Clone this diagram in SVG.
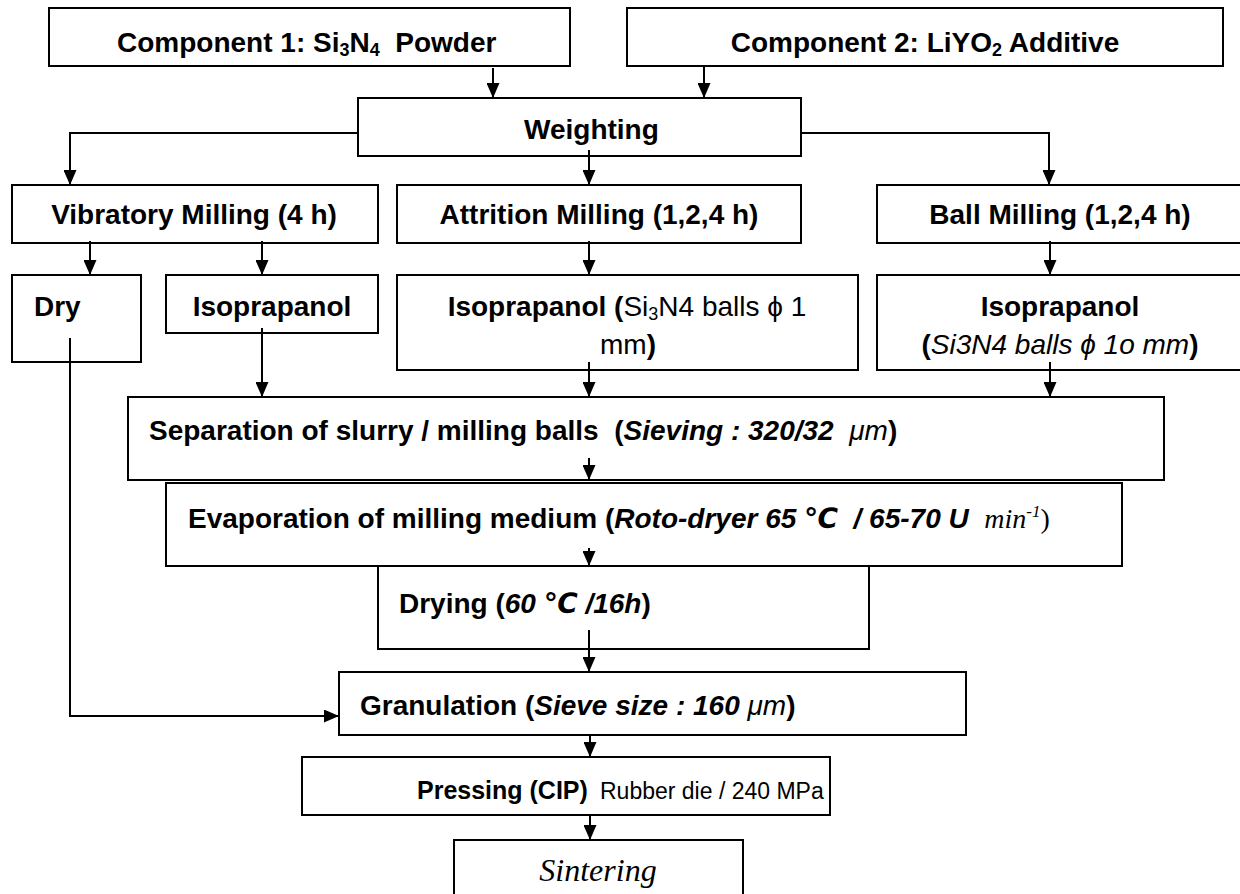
<svg xmlns="http://www.w3.org/2000/svg" width="1240" height="894" viewBox="0 0 1240 894">
<style>
.box{fill:#fff;stroke:#000;stroke-width:2}
.t{font-family:"Liberation Sans",Arial,"DejaVu Sans",sans-serif;font-size:28px;font-weight:bold;fill:#000;white-space:pre}
.r{font-weight:normal}
.i{font-style:italic}
.tm{font-family:"Liberation Serif","Times New Roman",serif;white-space:pre}
.conn{fill:none;stroke:#000;stroke-width:2}
</style>
<defs>
<marker id="ah" markerUnits="userSpaceOnUse" markerWidth="15" markerHeight="13" refX="15" refY="6.5" orient="auto"><path d="M0,0 L15,6.5 L0,13 z" fill="#000"/></marker>
</defs>
<rect width="1240" height="894" fill="#fff"/>

<g id="component1"><rect class="box" x="49" y="8" width="521" height="58"/><text class="t" x="117" y="52">Component 1: Si<tspan font-size="18" dy="4">3</tspan><tspan dy="-4">N</tspan><tspan font-size="18" dy="4">4</tspan><tspan dy="-4">  Powder</tspan></text></g>
<g id="component2"><rect class="box" x="627" y="8" width="596" height="58"/><text class="t" x="925" y="52" text-anchor="middle">Component 2: LiYO<tspan font-size="18" dy="4">2</tspan><tspan dy="-4"> Additive</tspan></text></g>
<g id="weighting"><rect class="box" x="358" y="98" width="443" height="58"/><text class="t" x="524" y="139">Weighting</text></g>

<g id="vibratory"><rect class="box" x="12" y="185" width="366" height="58"/><text class="t" x="194" y="224" text-anchor="middle">Vibratory Milling (4 h)</text></g>
<g id="attrition"><rect class="box" x="397" y="185" width="404" height="58"/><text class="t" x="599" y="224" text-anchor="middle">Attrition Milling (1,2,4 h)</text></g>
<g id="ball"><rect class="box" x="877" y="185" width="368" height="58"/><text class="t" x="1060" y="224" text-anchor="middle">Ball Milling (1,2,4 h)</text></g>

<g id="dry"><rect class="box" x="12" y="275" width="129" height="87"/><text class="t" x="34" y="316">Dry</text></g>
<g id="iso-vib"><rect class="box" x="166" y="275" width="212" height="58"/><text class="t" x="272" y="316" text-anchor="middle">Isoprapanol</text></g>
<g id="iso-attr"><rect class="box" x="397" y="275" width="461" height="95"/><text class="t" x="627" y="316" text-anchor="middle">Isoprapanol (<tspan class="r">Si</tspan><tspan class="r" font-size="18" dy="4">3</tspan><tspan class="r" dy="-4">N4 balls ϕ 1</tspan></text><text class="t" x="628" y="354" text-anchor="middle"><tspan class="r">mm</tspan>)</text></g>
<g id="iso-ball"><rect class="box" x="877" y="275" width="368" height="95"/><text class="t" x="1060" y="316" text-anchor="middle">Isoprapanol</text><text class="t" x="1060" y="354" text-anchor="middle">(<tspan class="r i">Si3N4 balls ϕ 1o mm</tspan>)</text></g>

<g id="separation"><rect class="box" x="128" y="397" width="1036" height="83"/><text class="t" x="149" y="440">Separation of slurry / milling balls  (<tspan class="i">Sieving : 320/32  </tspan><tspan class="i r">μm</tspan>)</text></g>
<g id="evaporation"><rect class="box" x="166" y="483" width="956" height="83"/><text class="t" x="188" y="528">Evaporation of milling medium (<tspan class="i">Roto-dryer 65 ℃  / 65-70 U  </tspan><tspan class="tm i r">min</tspan><tspan class="tm i r" font-size="17" dy="-11">-1</tspan><tspan class="tm r" dy="11">)</tspan></text></g>
<g id="drying"><rect class="box" x="378" y="566" width="491" height="83"/><text class="t" x="399" y="613">Drying (<tspan class="i">60 ℃ /16h</tspan>)</text></g>
<g id="granulation"><rect class="box" x="339" y="672" width="627" height="63"/><text class="t" x="360" y="715">Granulation (<tspan class="i">Sieve size : 160 </tspan><tspan class="i r">μm</tspan>)</text></g>
<g id="pressing"><rect class="box" x="302" y="757" width="528" height="58"/><text class="t" x="417" y="799" style="font-size:25px">Pressing (CIP)<tspan class="r" style="font-size:23px" x="600">Rubber die / 240 MPa</tspan></text></g>
<g id="sintering"><rect class="box" x="454" y="840" width="289" height="60"/><text class="tm i" x="598" y="881" font-size="32" text-anchor="middle">Sintering</text></g>

<g id="connectors" class="conn" marker-end="url(#ah)">
<path d="M493,68 V98"/>
<path d="M704,66 V98"/>
<path d="M358,133 H70 V185"/>
<path d="M589,150 V185"/>
<path d="M801,133 H1049 V185"/>
<path d="M90,241 V275"/>
<path d="M262,241 V275"/>
<path d="M589,241 V275"/>
<path d="M1050,241 V275"/>
<path d="M262,328 V397"/>
<path d="M589,362 V397"/>
<path d="M1050,362 V397"/>
<path d="M589,458 V480"/>
<path d="M589,548 V566"/>
<path d="M589,630 V672"/>
<path d="M70,338 V716 H339"/>
<path d="M590,736 V757"/>
<path d="M590,816 V840"/>
</g>
</svg>
